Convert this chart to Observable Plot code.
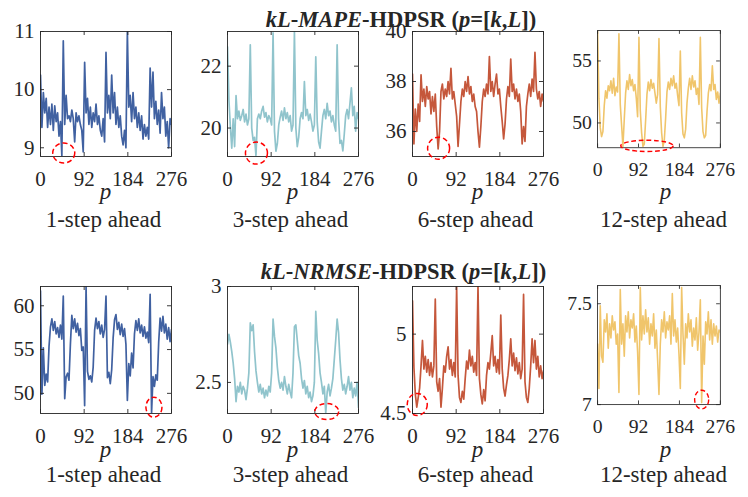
<!DOCTYPE html>
<html>
<head>
<meta charset="utf-8">
<script src="https://cdn.jsdelivr.net/npm/d3@7"></script>
<script src="https://cdn.jsdelivr.net/npm/@observablehq/plot@0.6"></script>
<style>
  body { margin: 0; background: #ffffff; }
  #root { position: relative; width: 748px; height: 497px; overflow: hidden;
          font-family: "Liberation Serif", serif; color: #262626; }
  .t { position: absolute; white-space: nowrap; transform: translateX(-50%); font-family: "Liberation Serif", serif; }
  .title { font-size: 22.5px; line-height: 20px; font-weight: bold; }
  .lab { font-size: 23px; line-height: 22px; }
  .panel { position: absolute; }
  .panel svg text { font-family: "Liberation Serif", serif; }
</style>
</head>
<body>
<div id="root"></div>
<script>
// ---------- data ----------
const titles = [
  '<i>kL</i>-<i>MAPE</i>-HDPSR (<i>p</i>=[<i>k</i>,<i>L</i>])',
  '<i>kL</i>-<i>NRMSE</i>-HDPSR (<i>p</i>=[<i>k</i>,<i>L</i>])'
];
const captions = ["1-step ahead", "3-step ahead", "6-step ahead", "12-step ahead"];
const xLabel = "p";
const xTicks = [0, 92, 184, 276];
const pIndex = d3.range(0, 277, 3);

const mape1 = [10.25,9.35,9.95,9.6,9.85,9.35,9.7,9.4,9.75,9.3,9.72,9.45,9.6,9.2,9.45,8.86,10.84,9.4,9.9,9.5,9.55,9.45,9.65,9.5,9.1,9.6,9.45,9.55,9.4,9.3,8.93,10.47,9.6,9.85,9.4,9.7,9.35,9.6,9.45,9.75,9.4,9.55,9.3,9.2,9.5,9.1,10.64,9.6,9.9,9.5,10.25,9.6,9.95,9.4,9.7,9.35,9.55,9.2,9.05,9.3,9.0,11.0,9.7,9.9,9.45,9.95,9.5,9.7,9.35,9.6,9.3,9.55,9.15,9.4,9.2,9.35,9.15,10.37,9.7,10.3,9.5,9.8,9.4,9.65,9.25,9.95,9.5,9.7,9.2,9.45,9.0,9.5,9.4];
const mape3 = [22.62,20.9,20.05,19.35,20.3,19.4,21.05,20.3,20.55,20.25,20.4,20.6,20.2,20.45,20.1,20.3,22.69,20.0,19.6,19.7,19.1,20.3,20.45,20.3,20.55,20.7,20.35,20.5,20.2,20.4,20.3,20.1,23.08,19.9,19.25,19.5,20.1,20.35,20.55,20.25,20.65,20.3,20.5,20.2,20.4,19.9,20.1,23.12,20.0,19.4,19.7,20.3,20.5,20.3,21.5,20.4,20.6,20.25,20.45,20.2,19.9,20.1,22.3,20.2,19.55,19.35,19.9,20.4,20.6,20.3,20.8,20.4,20.55,20.2,20.4,20.1,19.9,22.69,20.3,19.5,19.6,19.26,19.8,20.4,20.6,20.3,20.8,21.3,20.4,20.7,19.9,20.5,20.3];
const mape6 = [38.3,35.5,36.9,36.0,37.1,36.4,38.27,37.2,37.7,37.0,37.8,37.3,37.6,36.7,37.4,36.8,37.5,36.2,35.3,36.0,37.6,37.9,37.3,37.7,37.4,38.0,37.5,38.53,37.3,37.6,37.1,36.6,35.4,36.3,37.2,37.7,37.4,38.0,37.6,38.2,37.5,37.8,37.2,37.5,37.0,36.8,36.0,35.37,36.2,37.2,37.7,37.4,37.9,37.5,39.0,37.6,38.0,37.4,37.9,38.3,37.5,37.7,37.0,36.4,35.7,36.3,37.3,37.8,37.4,38.9,37.6,37.9,37.3,37.7,37.2,37.5,36.8,35.5,36.2,35.6,37.0,37.5,37.9,37.4,38.1,37.6,39.17,37.7,37.3,37.6,37.0,37.5,37.2];
const mape12 = [57.4,52.0,49.6,48.9,49.3,51.4,52.6,52.0,53.0,52.6,53.4,52.4,53.6,52.2,52.9,52.5,57.2,51.5,49.8,48.1,50.3,52.4,53.4,52.7,53.9,53.0,53.5,52.6,53.1,52.0,50.5,56.9,51.0,49.2,48.1,48.3,50.2,52.3,53.3,52.6,53.5,52.8,53.2,52.4,51.6,52.3,56.8,51.3,49.2,48.1,48.6,50.4,52.5,53.3,52.7,53.6,53.0,53.8,52.8,53.2,52.2,51.4,55.8,50.8,49.1,48.8,49.5,51.6,52.8,53.6,52.7,53.8,52.9,53.4,52.3,52.8,51.5,56.9,51.2,49.3,48.8,49.0,50.9,52.4,53.1,52.6,54.6,52.7,53.1,51.9,52.5,51.6,52.4];
const nrmse1 = [61.7,49.9,55.2,50.9,52.2,51.3,55.4,57.6,58.5,57.2,58.2,56.8,57.5,56.4,57.8,56.2,61.1,49.4,51.9,52.3,51.5,55.6,58.9,57.4,58.5,57.0,58.0,56.6,57.4,54.9,55.3,48.6,62.2,52.5,51.6,52.0,51.3,53.0,57.2,58.6,57.4,58.2,56.8,57.8,56.4,57.3,61.1,51.8,52.4,51.1,52.7,56.3,58.4,59.0,57.3,58.1,56.7,57.9,56.5,57.4,55.6,49.2,53.4,52.0,54.6,52.9,56.8,58.3,57.2,58.5,56.9,57.8,56.5,57.6,56.3,57.0,55.8,61.3,47.8,51.9,50.8,52.1,51.5,55.8,58.6,57.1,58.8,56.9,57.9,56.2,57.5,55.9,57.3];
const nrmse3 = [2.70,2.75,2.71,2.66,2.60,2.52,2.40,2.48,2.45,2.50,2.44,2.48,2.46,2.41,2.47,2.55,2.81,2.77,2.80,2.66,2.56,2.50,2.45,2.49,2.44,2.47,2.42,2.46,2.43,2.48,2.45,2.55,2.83,2.74,2.68,2.58,2.51,2.47,2.50,2.46,2.53,2.48,2.44,2.49,2.45,2.42,2.55,2.79,2.80,2.72,2.64,2.60,2.52,2.47,2.51,2.44,2.48,2.42,2.45,2.40,2.43,2.50,2.87,2.72,2.65,2.55,2.50,2.44,2.48,2.34,2.45,2.49,2.43,2.47,2.52,2.62,2.72,2.83,2.76,2.62,2.52,2.46,2.49,2.44,2.48,2.53,2.46,2.50,2.42,2.47,2.43,2.50,2.37];
const nrmse6 = [5.21,4.79,4.62,4.54,4.60,4.66,4.80,4.96,4.78,4.86,4.76,4.84,4.74,4.82,4.73,4.80,5.22,4.70,4.64,4.72,4.54,4.66,4.80,4.76,4.86,4.92,4.78,4.84,4.74,4.82,4.73,5.30,4.74,4.60,4.57,4.64,4.59,4.72,4.83,4.78,4.90,4.80,4.86,4.76,4.82,4.74,5.30,4.72,4.62,4.56,4.65,4.58,4.74,4.82,4.78,4.88,4.99,4.80,4.86,4.76,4.84,4.75,5.12,4.78,4.66,4.61,4.68,4.74,4.84,4.97,4.80,4.88,4.77,4.85,4.75,4.82,4.72,4.78,5.25,4.70,4.60,4.57,4.66,4.80,4.97,4.82,4.96,4.78,4.86,4.73,4.80,4.72,4.77];
const nrmse12 = [7.30,7.08,7.49,7.24,7.21,7.42,7.36,7.45,7.28,7.40,7.33,7.44,7.37,7.41,7.30,7.35,7.06,7.57,7.30,7.40,7.24,7.44,7.36,7.46,7.33,7.42,7.38,7.45,7.31,7.39,7.26,7.05,7.58,7.32,7.44,7.35,7.47,7.36,7.43,7.30,7.40,7.34,7.45,7.28,7.37,7.22,7.05,7.30,7.42,7.36,7.46,7.33,7.41,7.37,7.44,7.30,7.55,7.34,7.42,7.31,7.38,7.25,7.08,7.58,7.35,7.20,7.40,7.33,7.45,7.36,7.42,7.29,7.38,7.32,7.43,7.27,7.36,7.52,7.01,7.34,7.20,7.41,7.35,7.46,7.32,7.42,7.30,7.40,7.34,7.39,7.31,7.37,7.36];

const seriesList = [mape1, mape3, mape6, mape12, nrmse1, nrmse3, nrmse6, nrmse12];
const colors = ["#4061A1", "#90C4CC", "#C5573B", "#F0C56B"];
const yDomains = [[8.85, 11], [19.08, 23.12], [35, 40], [48, 57.45],
                  [47.7, 62.2], [2.338, 3], [4.5, 5.3], [7, 7.59]];
const yTickSets = [[9, 10, 11], [20, 22], [36, 38, 40], [50, 55],
                   [50, 55, 60], [2.5, 3], [4.5, 5], [7, 7.5]];
// red dashed marks: centre in data units
const markP = [49, 61, 55, 111, 239, 209, 10, 234];
const markV = [8.91, 19.19, 35.33, 48.15, 48.42, 2.348, 4.557, 7.025];
const markRx = [11, 11, 11, 28, 8, 12, 10, 7.5];
const markRy = [10, 11, 11, 6, 10, 8, 11, 10];

// ---------- layout ----------
const frameLefts = [40, 227, 412, 600];
const frameW = 131;
const rowTop = [31, 286];
const rowH = [125, 127];
// div tops chosen so baselines fall at 27 / 279 (titles), 200 / 458 (p), 228 / 483 (captions)
const titleTop = [9.5, 261.5];
const pTop = [181.2, 439.2];
const capTop = [209.2, 464.2];

const root = document.getElementById("root");

function ellipseSymbol(rx, ry) {
  const k = 0.5523;
  return {
    draw(c) {
      c.moveTo(rx, 0);
      c.bezierCurveTo(rx, ry * k, rx * k, ry, 0, ry);
      c.bezierCurveTo(-rx * k, ry, -rx, ry * k, -rx, 0);
      c.bezierCurveTo(-rx, -ry * k, -rx * k, -ry, 0, -ry);
      c.bezierCurveTo(rx * k, -ry, rx, -ry * k, rx, 0);
      c.closePath();
    }
  };
}

function addText(html, cls, x, y) {
  const d = document.createElement("div");
  d.className = "t " + cls;
  d.style.left = x + "px";
  d.style.top = y + "px";
  d.innerHTML = html;
  root.appendChild(d);
}

addText(titles[0], "title", 401, titleTop[0]);
addText(titles[1], "title", 403.5, titleTop[1]);

const mL = 46, mR = 30, mT = 14, mB = 46;
const ink = "#262626";

seriesList.forEach((vals, idx) => {
  const row = Math.floor(idx / 4), col = idx % 4;
  const h = rowH[row];
  const data = pIndex.map((p, i) => ({p, v: vals[i]}));
  const yTicks = yTickSets[idx];
  const plot = Plot.plot({
    width: mL + frameW + mR,
    height: mT + h + mB,
    marginLeft: mL, marginRight: mR, marginTop: mT, marginBottom: mB,
    style: {background: "transparent", fontFamily: '"Liberation Serif", serif',
            fontSize: "21px", color: ink, overflow: "visible"},
    x: {domain: [0, 276], ticks: xTicks, tickSize: 0, tickPadding: 15, label: null},
    y: {domain: yDomains[idx], ticks: yTicks, tickSize: 0, tickPadding: 6, label: null,
        tickFormat: d => String(d)},
    marks: [
      Plot.line(data, {x: "p", y: "v", stroke: colors[col], strokeWidth: 1.7, clip: true}),
      Plot.frame({stroke: ink, strokeWidth: 0.9}),
      Plot.ruleX(xTicks, {x: d => d, insetTop: h - 4, stroke: ink, strokeWidth: 0.9}),
      Plot.ruleX(xTicks, {x: d => d, insetBottom: h - 4, stroke: ink, strokeWidth: 0.9}),
      Plot.ruleY(yTicks, {y: d => d, insetRight: frameW - 4, stroke: ink, strokeWidth: 0.9}),
      Plot.ruleY(yTicks, {y: d => d, insetLeft: frameW - 4, stroke: ink, strokeWidth: 0.9}),
      Plot.dot([{p: markP[idx], v: markV[idx]}], {
        x: "p", y: "v", symbol: ellipseSymbol(markRx[idx], markRy[idx]),
        fill: "none", stroke: "#FF0000", strokeWidth: 1.5, strokeDasharray: "5,3"
      })
    ]
  });
  plot.querySelectorAll("text").forEach(t => { t.style.fontSize = "21px"; });
  const wrap = document.createElement("div");
  wrap.className = "panel";
  wrap.style.left = (frameLefts[col] - mL) + "px";
  wrap.style.top = (rowTop[row] - mT) + "px";
  wrap.appendChild(plot);
  root.appendChild(wrap);

  const cx = frameLefts[col] + frameW / 2;
  addText("<i>" + xLabel + "</i>", "lab", cx, pTop[row]);
  addText(captions[col], "lab", cx - 2, capTop[row]);
});
</script>
</body>
</html>
